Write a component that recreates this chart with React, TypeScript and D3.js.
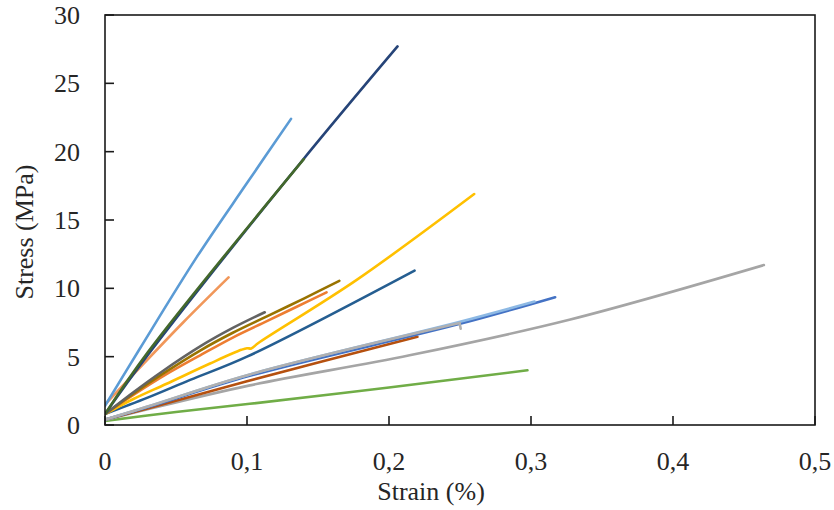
import React from "react";
import * as d3 from "d3";

type Pt = [number, number];

const xTicks = [0, 0.1, 0.2, 0.3, 0.4, 0.5];
const yTicks = [0, 5, 10, 15, 20, 25, 30];
const xTickLabels = ["0", "0,1", "0,2", "0,3", "0,4", "0,5"];
const yTickLabels = ["0", "5", "10", "15", "20", "25", "30"];

const sMediumBlue: Pt[] = [[0, 0.4], [0.03, 1.3], [0.102, 3.6], [0.25, 7.4], [0.317, 9.35]];
const sOrange: Pt[] = [[0, 0.8], [0.02, 2.2], [0.043, 3.7], [0.067, 5.1], [0.09, 6.4], [0.114, 7.6], [0.135, 8.65], [0.156, 9.7]];
const sGrayLong: Pt[] = [[0, 0.35], [0.03, 1.15], [0.102, 2.9], [0.2145, 5.1], [0.327, 7.7], [0.464, 11.7]];
const sYellow: Pt[] = [[0, 0.8], [0.02, 1.9], [0.043, 3.0], [0.074, 4.5], [0.096, 5.5], [0.1, 5.62], [0.103, 5.6], [0.108, 6.0], [0.177, 10.6], [0.26, 16.9]];
const sLightBlue: Pt[] = [[0, 1.4], [0.0246, 5.6], [0.0647, 12.3], [0.1, 17.7], [0.131, 22.4]];
const sGreen: Pt[] = [[0, 0.3], [0.05, 0.95], [0.102, 1.55], [0.2, 2.75], [0.2975, 4.0]];
const sNavy: Pt[] = [[0, 0.8], [0.03, 5.1], [0.137, 19.1], [0.206, 27.7]];
const sBrown: Pt[] = [[0, 0.4], [0.03, 1.2], [0.1, 3.2], [0.22, 6.45]];
const sDarkGray: Pt[] = [[0, 0.8], [0.02, 2.4], [0.04, 3.9], [0.067, 5.75], [0.09, 7.1], [0.1125, 8.25]];
const sOlive: Pt[] = [[0, 0.8], [0.02, 2.3], [0.04, 3.7], [0.067, 5.45], [0.09, 6.75], [0.114, 7.95], [0.14, 9.25], [0.165, 10.55]];
const sBlue: Pt[] = [[0, 0.8], [0.03, 2.0], [0.06, 3.3], [0.1, 5.0], [0.218, 11.3]];
const sDarkGreen: Pt[] = [[0, 0.8], [0.03, 5.3], [0.14, 19.45]];
const sSalmon: Pt[] = [[0, 1.5], [0.02, 3.7], [0.055, 7.5], [0.087, 10.8]];
const sGrayShort: Pt[] = [[0, 0.4], [0.03, 1.35], [0.102, 3.7], [0.2497, 7.46]];
const sGrayShortHook: Pt[] = [[0.2497, 7.46], [0.2505, 7.05]];
const sPaleBlue: Pt[] = [[0, 0.4], [0.03, 1.35], [0.102, 3.7], [0.25, 7.55], [0.3025, 9.03]];

const seriesList: { data: Pt[]; color: string }[] = [
  { data: sGreen, color: "#70AD47" },
  { data: sGrayLong, color: "#A5A5A5" },
  { data: sBrown, color: "#B5500F" },
  { data: sMediumBlue, color: "#4472C4" },
  { data: sPaleBlue, color: "#8DB9E4" },
  { data: sGrayShort, color: "#B0B0B0" },
  { data: sGrayShortHook, color: "#B0B0B0" },
  { data: sBlue, color: "#255E91" },
  { data: sYellow, color: "#FFC000" },
  { data: sOrange, color: "#ED7D31" },
  { data: sOlive, color: "#997300" },
  { data: sDarkGray, color: "#636363" },
  { data: sSalmon, color: "#F1975A" },
  { data: sNavy, color: "#264478" },
  { data: sDarkGreen, color: "#43682B" },
  { data: sLightBlue, color: "#5B9BD5" },
];

const W = 834;
const H = 510;
const left = 105, right = 815, top = 15, bottom = 425;

export default function App() {
  const x = d3.scaleLinear().domain([0, 0.5]).range([left, right]);
  const y = d3.scaleLinear().domain([0, 30]).range([bottom, top]);
  const line = d3
    .line<Pt>()
    .x((d) => x(d[0]))
    .y((d) => y(d[1]))
    .curve(d3.curveCatmullRom.alpha(0.5));
  const font = "'Times New Roman', 'Liberation Serif', serif";
  const txt = "#262626";
  return (
    <div style={{ position: "absolute", left: 0, top: 0 }}>
      <svg width={W} height={H} style={{ display: "block", background: "#fff" }}>
        <rect x={0} y={0} width={W} height={H} fill="#fff" />
        <defs>
          <clipPath id="clip">
            <rect x={left} y={top - 2} width={right - left} height={bottom - top + 2} />
          </clipPath>
        </defs>
        <g clipPath="url(#clip)">
          {seriesList.map((s, i) => (
            <path key={i} d={line(s.data) || ""} fill="none" stroke={s.color} strokeWidth={2.6} strokeLinecap="round" strokeLinejoin="round" />
          ))}
        </g>
        <rect x={left} y={top} width={right - left} height={bottom - top} fill="none" stroke="#1a1a1a" strokeWidth={1.6} />
        <g style={{ fontFamily: font }}>
          {yTicks.map((t, i) => (
            <g key={"y" + i}>
              <line x1={left} x2={left + 9} y1={y(t)} y2={y(t)} stroke="#1a1a1a" strokeWidth={1.6} />
              <text x={80} y={y(t) + 9} textAnchor="end" fontSize={26} fill={txt}>
                {yTickLabels[i]}
              </text>
            </g>
          ))}
          {xTicks.map((t, i) => (
            <g key={"x" + i}>
              <line x1={x(t)} x2={x(t)} y1={bottom} y2={bottom - 9} stroke="#1a1a1a" strokeWidth={1.6} />
              <text x={x(t)} y={470} textAnchor="middle" fontSize={26} fill={txt}>
                {xTickLabels[i]}
              </text>
            </g>
          ))}
          <text x={431} y={500} textAnchor="middle" fontSize={26} fill={txt}>
            Strain (%)
          </text>
          <text transform="translate(33,232) rotate(-90)" textAnchor="middle" fontSize={26} fill={txt}>
            Stress (MPa)
          </text>
        </g>
      </svg>
    </div>
  );
}
